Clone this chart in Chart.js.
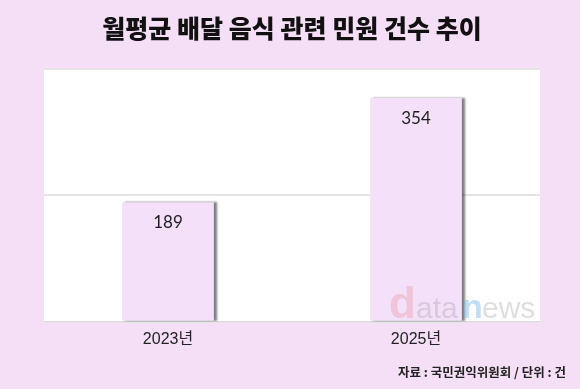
<!DOCTYPE html>
<html><head><meta charset="utf-8">
<script src="https://cdn.jsdelivr.net/npm/chart.js@4"></script>
<style>html,body{margin:0;padding:0;background:#f4dff7;}#wrap{width:580px;height:389px;position:relative;}</style>
</head><body><div id="wrap"><canvas id="c" width="580" height="389"></canvas></div>
<script>
const categories = ["2023년", "2025년"];
const complaints = [189, 354];
const yTicks = [0, 200, 400];
const titleText = "월평균 배달 음식 관련 민원 건수 추이";
const sourceText = "자료 : 국민권익위원회 / 단위 : 건";

const KR = "'Noto Sans CJK KR','Noto Sans',sans-serif";
const LAT = "'Liberation Sans','Noto Sans CJK KR',sans-serif";

const areaBg = {
  id: 'areaBg',
  beforeDraw(chart) {
    const {ctx, chartArea: a} = chart;
    ctx.save();
    ctx.fillStyle = '#ffffff';
    ctx.fillRect(a.left, a.top, a.right - a.left, a.bottom - a.top);
    ctx.restore();
  }
};
const barShadow = {
  id: 'barShadow',
  beforeDatasetsDraw(chart) {
    const ctx = chart.ctx;
    ctx.save();
    ctx.shadowColor = 'rgba(0,0,0,0.5)';
    ctx.shadowOffsetX = 3;
    ctx.shadowOffsetY = 0;
    ctx.shadowBlur = 2;
  },
  afterDatasetsDraw(chart) {
    chart.ctx.restore();
    const ctx = chart.ctx;
    const meta = chart.getDatasetMeta(0);
    ctx.save();
    ctx.fillStyle = '#1e1e1e';
    ctx.font = "17px Lato, 'Liberation Sans', sans-serif";
    ctx.textAlign = 'center';
    ctx.textBaseline = 'middle';
    meta.data.forEach((bar, i) => {
      ctx.fillText(String(complaints[i]), bar.x, bar.y + 20);
    });
    // watermark
    const a = chart.chartArea;
    const base = a.bottom - 4;
    ctx.textAlign = 'left';
    ctx.textBaseline = 'alphabetic';
    ctx.font = "bold 44px 'Liberation Sans', Arial, sans-serif";
    ctx.fillStyle = 'rgba(235,170,185,0.5)';
    ctx.fillText('d', 389, base);
    ctx.font = "30px 'Liberation Sans', Arial, sans-serif";
    ctx.fillStyle = 'rgba(160,160,170,0.35)';
    ctx.fillText('ata', 416, base);
    ctx.font = "bold 34px 'Liberation Sans', Arial, sans-serif";
    ctx.fillStyle = 'rgba(130,190,235,0.5)';
    ctx.fillText('n', 462, base);
    ctx.font = "30px 'Liberation Sans', Arial, sans-serif";
    ctx.fillStyle = 'rgba(160,160,170,0.35)';
    ctx.fillText('ews', 482, base);
    // source
    ctx.font = "bold 12.5px " + KR;
    ctx.fillStyle = '#222';
    ctx.textAlign = 'right';
    ctx.textBaseline = 'middle';
    ctx.fillText(sourceText, 566, 372);
    ctx.restore();
  }
};

new Chart(document.getElementById('c'), {
  type: 'bar',
  data: {
    labels: categories,
    datasets: [{
      data: complaints,
      backgroundColor: '#f4e0f8',
      borderWidth: 0,
      barPercentage: 0.37,
      categoryPercentage: 1.0
    }]
  },
  options: {
    responsive: false,
    animation: false,
    layout: { padding: { left: 44, right: 40, top: 0, bottom: 40 } },
    plugins: {
      legend: { display: false },
      tooltip: { enabled: false },
      title: {
        display: true, text: titleText, color: '#111',
        font: { family: KR, size: 25, weight: '900' },
        padding: { top: 13, bottom: 26 }
      }
    },
    scales: {
      x: {
        grid: { display: false },
        border: { display: true, color: '#dcdcdc', width: 1 },
        ticks: { color: '#222', font: { family: LAT, size: 16 }, padding: 0 }
      },
      y: {
        min: yTicks[0], max: yTicks[yTicks.length - 1],
        afterBuildTicks(scale) { scale.ticks = yTicks.map(v => ({value: v})); },
        grid: { color: '#e4e4e4', lineWidth: 2, drawTicks: false },
        border: { display: false },
        ticks: { display: false }
      }
    }
  },
  plugins: [areaBg, barShadow]
});
</script></body></html>
